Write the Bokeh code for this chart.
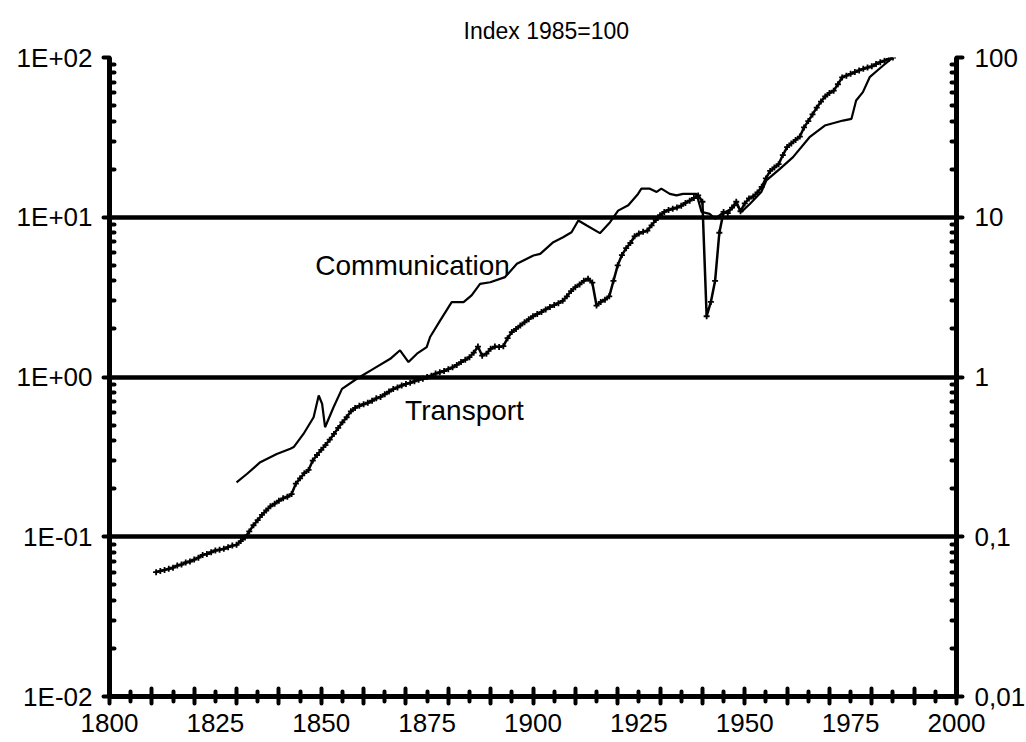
from bokeh.plotting import figure
from bokeh.models import (Range1d, LogAxis, LinearAxis, FixedTicker, CustomJSTickFormatter,
                          Grid, Label)
from bokeh.embed import file_html
from bokeh.resources import INLINE

FONT = "Liberation Sans"

title_text = "Index 1985=100"

transport_years = list(range(1811, 1986))
transport_index = [
    0.060, 0.061, 0.062, 0.063, 0.064, 0.066, 0.067, 0.069, 0.070,
    0.072, 0.074, 0.077, 0.078, 0.080, 0.082, 0.083, 0.084, 0.086, 0.088,
    0.089, 0.094, 0.099, 0.108, 0.118, 0.127, 0.137, 0.146, 0.155, 0.161,
    0.168, 0.174, 0.178, 0.185, 0.215, 0.232, 0.250, 0.262, 0.300, 0.325,
    0.350, 0.375, 0.405, 0.440, 0.480, 0.520, 0.560, 0.610, 0.640, 0.660,
    0.675, 0.690, 0.710, 0.735, 0.750, 0.780, 0.810, 0.840, 0.860, 0.885,
    0.905, 0.920, 0.940, 0.960, 0.975, 1.00, 1.02, 1.05, 1.07, 1.09,
    1.12, 1.15, 1.19, 1.24, 1.28, 1.33, 1.42, 1.55, 1.36, 1.40,
    1.50, 1.55, 1.54, 1.56, 1.75, 1.91, 2.00, 2.10, 2.20, 2.30,
    2.40, 2.48, 2.55, 2.65, 2.74, 2.82, 2.90, 3.00, 3.20, 3.45,
    3.65, 3.80, 4.00, 4.12, 3.90, 2.80, 2.95, 3.05, 3.20, 4.00,
    5.00, 5.80, 6.40, 6.90, 7.60, 7.90, 8.10, 8.25, 8.90, 9.60,
    10.3, 10.8, 11.1, 11.3, 11.5, 11.8, 12.3, 12.7, 13.2, 13.7,
    12.5, 2.40, 2.95, 4.00, 8.00, 10.8, 10.6, 11.5, 12.5, 10.9,
    12.2, 13.1, 13.5, 14.3, 15.5, 17.5, 19.5, 20.5, 21.5, 24.5,
    27.5, 29.0, 30.5, 32.0, 36.5, 40.0, 44.0, 48.5, 53.0, 57.0,
    60.0, 62.0, 68.0, 75.0, 77.0, 79.0, 81.0, 83.0, 85.0, 86.5,
    88.0, 91.0, 93.5, 95.5, 98.0, 100.0,
]

communication_years = [
    1830.0, 1832.5, 1835.6, 1839.5, 1842.7, 1843.5, 1845.8, 1848.2, 1849.4, 1850.2,
    1850.9, 1852.9, 1854.9, 1858.4, 1862.3, 1866.3, 1868.6, 1870.6, 1872.6, 1874.9,
    1875.7, 1878.1, 1880.8, 1883.6, 1885.5, 1887.5, 1889.9, 1893.4, 1896.2, 1900.1,
    1901.7, 1904.8, 1907.1, 1909.1, 1910.7, 1912.7, 1915.8, 1918.2, 1920.1, 1922.5,
    1924.8, 1925.6, 1927.6, 1929.2, 1930.3, 1932.3, 1933.9, 1935.4, 1938.6, 1939.8,
    1941.7, 1943.0, 1944.5, 1946.9, 1948.0, 1949.2, 1951.2, 1953.9, 1955.1, 1958.3,
    1961.4, 1965.3, 1968.9, 1973.2, 1975.2, 1976.3, 1977.9, 1979.5, 1982.2, 1985.0,
]
communication_index = [
    0.219, 0.248, 0.293, 0.330, 0.356, 0.364, 0.440, 0.560, 0.766, 0.680,
    0.485, 0.647, 0.843, 0.975, 1.125, 1.30, 1.47, 1.24, 1.40, 1.54,
    1.78, 2.26, 2.94, 2.94, 3.24, 3.83, 3.92, 4.22, 5.11, 5.76,
    5.90, 6.98, 7.50, 8.06, 9.55, 8.88, 7.95, 9.31, 11.0, 11.9,
    14.0, 15.1, 15.1, 14.4, 15.1, 14.0, 13.7, 14.0, 14.0, 10.8,
    10.5, 9.78, 10.5, 11.3, 12.1, 10.8, 12.1, 14.4, 17.0, 20.1,
    23.8, 31.7, 37.5, 40.3, 41.3, 53.8, 60.7, 75.3, 86.9, 100.0,
]

y_ticks = [0.01, 0.1, 1, 10, 100]
left_tick_labels = ["1E-02", "1E-01", "1E+00", "1E+01", "1E+02"]
right_tick_labels = ["0,01", "0,1", "1", "10", "100"]
x_label_years = [1800, 1825, 1850, 1875, 1900, 1925, 1950, 1975, 2000]
x_tick_labels = ["1800", "1825", "1850", "1875", "1900", "1925", "1950", "1975", "2000"]

series_names = ["Communication", "Transport"]
series_label_x = [1848.6, 1869.8]
series_label_y = [5.0, 0.62]

p = figure(frame_width=847, frame_height=639,
           min_border_left=109, min_border_right=70, min_border_top=57, min_border_bottom=46,
           x_range=Range1d(1800, 2000), y_range=Range1d(0.01, 100),
           y_axis_type="log", x_axis_location=None, y_axis_location=None,
           output_backend="svg", toolbar_location=None, title=title_text)
p.outline_line_color = None
p.background_fill_color = "white"
p.border_fill_color = "white"
p.title.text_font = FONT
p.title.text_font_size = "23px"
p.title.text_font_style = "normal"
p.title.align = "left"
p.title.offset = 354
p.title.vertical_align = "top"
p.title.text_color = "black"
p.title.standoff = 24

for g in p.grid:
    g.visible = False

minor_y = [m * 10.0 ** e for e in range(-2, 2) for m in range(2, 10)]
grid = Grid(dimension=1, ticker=FixedTicker(ticks=[0.1, 1, 10, 100]),
            grid_line_color="black", grid_line_width=4.5)
p.add_layout(grid, "center")


def style_y(ax, standoff):
    ax.axis_line_width = 5
    ax.axis_line_color = "black"
    ax.major_tick_in = 0
    ax.major_tick_out = 6
    ax.major_tick_line_width = 4
    ax.major_tick_line_cap = "round"
    ax.minor_tick_in = 5
    ax.minor_tick_out = 0
    ax.minor_tick_line_width = 4
    ax.minor_tick_line_cap = "round"
    ax.major_label_text_font = FONT
    ax.major_label_text_font_size = "26px"
    ax.major_label_text_color = "black"
    ax.major_label_standoff = standoff


code = "return labels[Math.round(Math.log10(tick)) + 2];"
ly = LogAxis(ticker=FixedTicker(ticks=y_ticks, minor_ticks=minor_y),
             formatter=CustomJSTickFormatter(args=dict(labels=left_tick_labels), code=code))
style_y(ly, 11)
p.add_layout(ly, "left")

ry = LogAxis(ticker=FixedTicker(ticks=y_ticks, minor_ticks=minor_y),
             formatter=CustomJSTickFormatter(args=dict(labels=right_tick_labels), code=code))
style_y(ry, 12)
p.add_layout(ry, "right")

# tick marks of the time axis (every 10 years long, every 5 years short)
bx = LinearAxis(ticker=FixedTicker(ticks=list(range(1800, 2001, 10)),
                                   minor_ticks=list(range(1805, 2000, 10))),
                formatter=CustomJSTickFormatter(code="return '';"))
bx.axis_line_width = 5
bx.axis_line_color = "black"
bx.major_tick_in = 8
bx.major_tick_out = 7
bx.major_tick_line_width = 4
bx.major_tick_line_cap = "round"
bx.minor_tick_in = 5
bx.minor_tick_out = 5
bx.minor_tick_line_width = 4
bx.minor_tick_line_cap = "round"
bx.major_label_text_font_size = "0px"
bx.major_label_standoff = 0
p.add_layout(bx, "below")

# labels of the time axis (every 25 years)
bl = LinearAxis(ticker=FixedTicker(ticks=x_label_years, minor_ticks=[]),
                formatter=CustomJSTickFormatter(args=dict(labels=x_tick_labels, years=x_label_years),
                                                code="return labels[years.indexOf(Math.round(tick))];"))
bl.axis_line_color = None
bl.major_tick_in = 0
bl.major_tick_out = 0
bl.minor_tick_in = 0
bl.minor_tick_out = 0
bl.major_label_text_font = FONT
bl.major_label_text_font_size = "26px"
bl.major_label_text_color = "black"
bl.major_label_standoff = 10
p.add_layout(bl, "below")

p.line(communication_years, communication_index, line_color="black", line_width=2.2)
p.line(transport_years, transport_index, line_color="black", line_width=2.5)
p.scatter(transport_years, transport_index, marker="cross", size=6,
          line_color="black", line_width=1.8)

for name, lx, ly_ in zip(series_names, series_label_x, series_label_y):
    p.add_layout(Label(x=lx, y=ly_, text=name, text_align="left", text_baseline="middle",
                       text_font=FONT, text_font_size="28px", text_color="black"))

open("out.html", "w").write(file_html(p, INLINE))
